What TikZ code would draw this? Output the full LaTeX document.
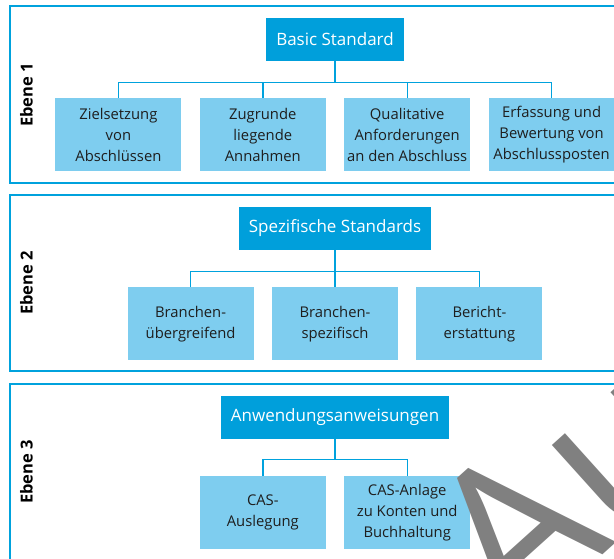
\documentclass[tikz,border=0pt]{standalone}
\usepackage{fontspec}
\setmainfont{Open Sans}
\usepackage{xcolor}
\usetikzlibrary{positioning}
\definecolor{headblue}{HTML}{009FDB}
\definecolor{subblue}{HTML}{7ECDEF}
\definecolor{lineblue}{HTML}{00A2DD}
\definecolor{textgray}{HTML}{1E1E1E}
\tikzset{
    %Define style for boxes
    head/.style={
           rectangle,
           fill=headblue,
           text=white,
           minimum height=43pt,
           inner xsep=10pt,
           font=\fontsize{17}{20}\selectfont},
    sub/.style={
           rectangle,
           fill=subblue,
           text=textgray,
           minimum width=126pt,
           minimum height=73pt,
           align=center,
           inner sep=0pt,
           font=\fontsize{14.8}{21}\selectfont},
    level/.style={
           rotate=90,
           anchor=base,
           text=black,
           font=\fontsize{16.5}{18}\selectfont\bfseries},
    % Define frame and line style
    panel/.style={
           draw=lineblue,
           line width=1.4pt},
    link/.style={
           draw=lineblue,
           line width=1.4pt},
    wmark/.style={
           text=gray,
           inner sep=0pt,
           anchor=base west,
           rotate=42,
           font=\fontsize{215}{215}\selectfont}
}

\begin{document}
\begin{tikzpicture}[x=1pt,y=1pt]
\useasboundingbox (0,0) rectangle (614,-558);
\clip (0,0) rectangle (614,-558);
\fill[white] (0,0) rectangle (614,-558);
 %frames
\draw[panel] (10,-6) rectangle (625,-183);
\draw[panel] (10,-195) rectangle (625,-371);
\draw[panel] (10,-384) rectangle (625,-570);
 %level 1
\node[level](e1) at (32.5,-95){Ebene 1};
\node[head](bs) at (335,-39.5){Basic Standard};
\coordinate[below=37pt of bs](r1);
\node[sub, below left=0pt and 9pt of r1](z2){Zugrunde\\liegende\\Annahmen};
\node[sub, left=18pt of z2](z1){Zielsetzung\\von\\Abschlüssen};
\node[sub, below right=0pt and 9pt of r1](z3){Qualitative\\Anforderungen\\an den Abschluss};
\node[sub, right=18pt of z3](z4){Erfassung und\\Bewertung von\\Abschlussposten};
 %level 2
\node[level](e2) at (32.5,-283){Ebene 2};
\node[head](sp) at (335,-228.5){Spezifische Standards};
\node[sub, below=37pt of sp](b2){Branchen-\\spezifisch};
\node[sub, left=18pt of b2](b1){Branchen-\\übergreifend};
\node[sub, right=18pt of b2](b3){Bericht-\\erstattung};
 %level 3
\node[level](e3) at (32.5,-472){Ebene 3};
\node[head](aw) at (335,-417){Anwendungsanweisungen};
\coordinate[below=37pt of aw](r3);
\node[sub, below left=0pt and 9pt of r3](c1){CAS-\\Auslegung};
\node[sub, below right=0pt and 9pt of r3](c2){CAS-Anlage\\zu Konten und\\Buchhaltung};
 %edges
\foreach \c in {z1,z2,z3,z4}
    \draw[link] (bs.south) -- ++(0,-21) -| (\c.north);
\foreach \c in {b1,b2,b3}
    \draw[link] (sp.south) -- ++(0,-21) -| (\c.north);
\foreach \c in {c1,c2}
    \draw[link] (aw.south) -- ++(0,-21) -| (\c.north);
 %watermark
\node[wmark](wm) at (515.1,-633.3){Au};
\end{tikzpicture}
\end{document}
